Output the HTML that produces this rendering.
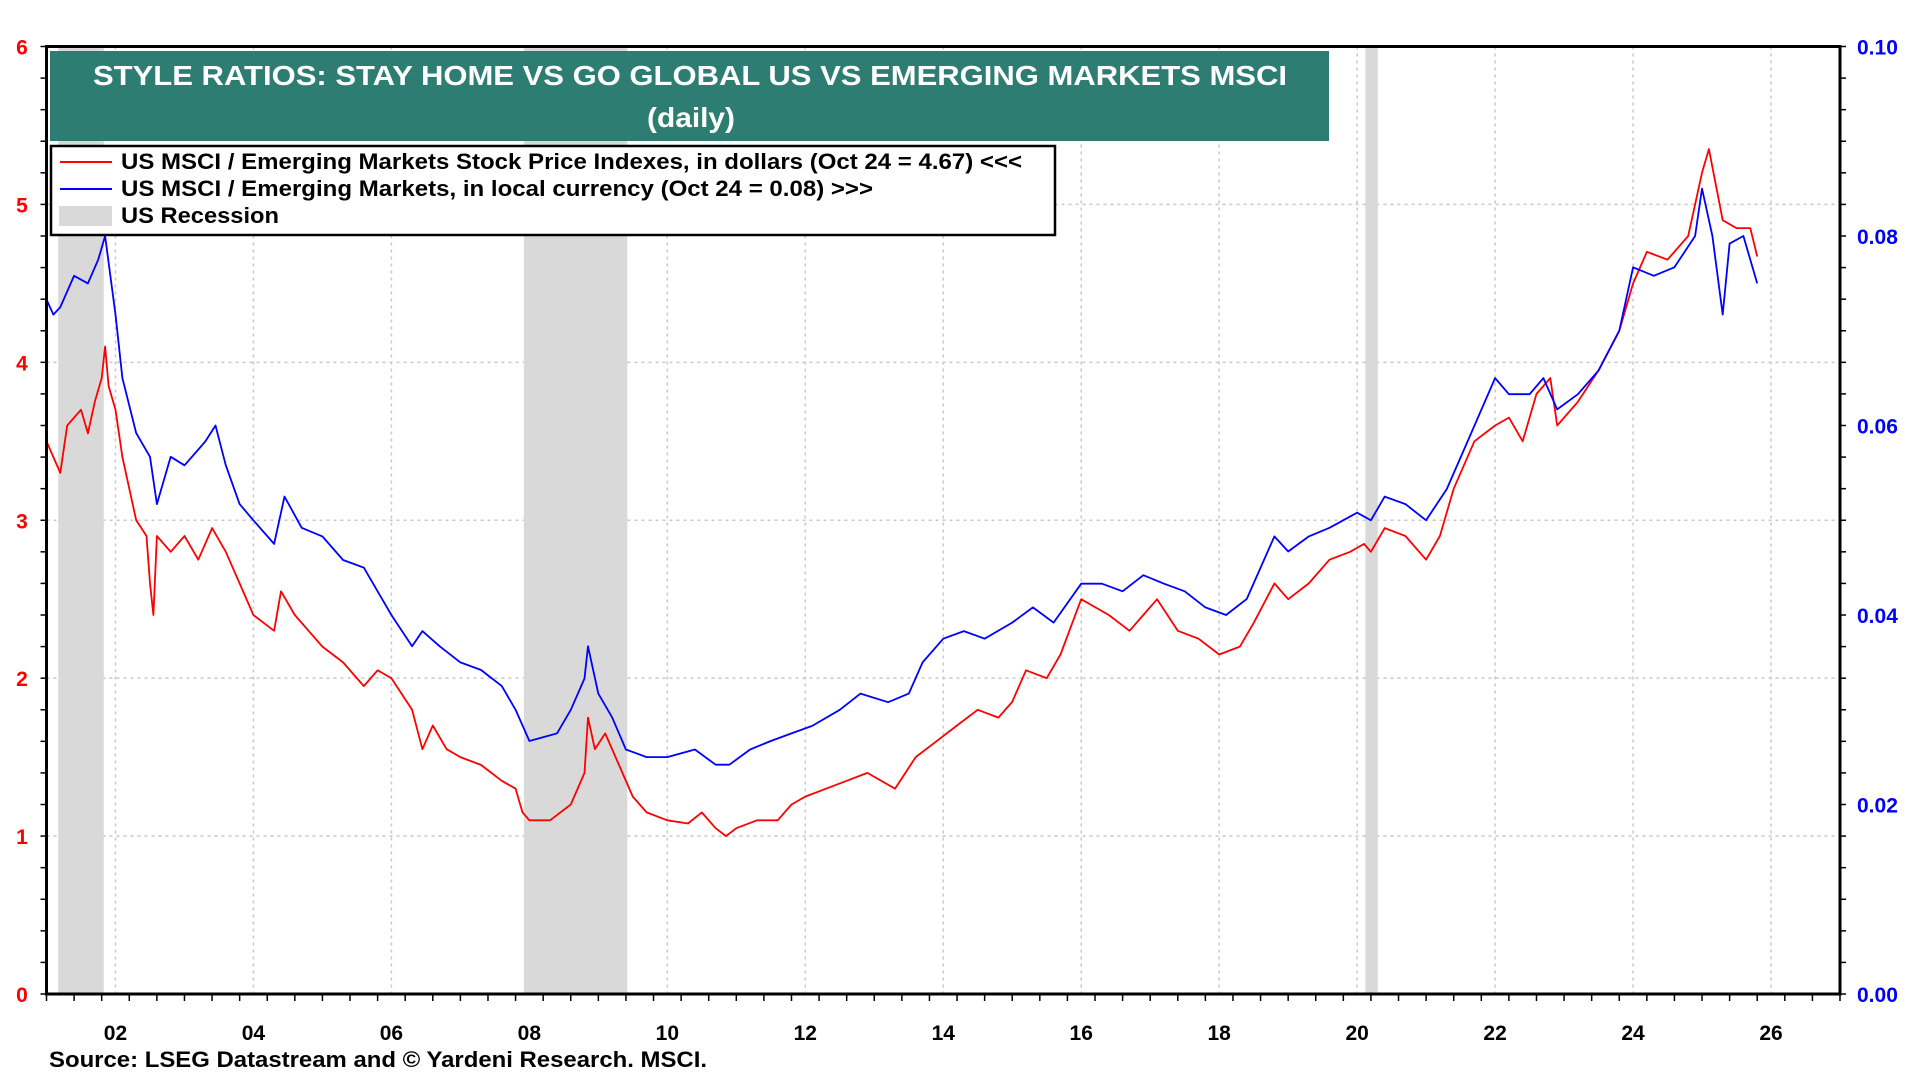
<!DOCTYPE html>
<html><head><meta charset="utf-8"><style>
html,body{margin:0;padding:0;background:#fff;}
svg{display:block;font-family:"Liberation Sans",Arial,sans-serif;font-weight:bold;}
</style></head><body>
<svg id="chart" width="1920" height="1080" viewBox="0 0 1920 1080">
<g id="grid"></g>
<g id="recess"></g>
<g id="lines"></g>
<rect x="46.5" y="46.5" width="1793.5" height="947.5" fill="none" stroke="#000" stroke-width="3"/>
<g id="ticks"></g>
<g>
<rect x="50" y="51" width="1279" height="90" fill="#2e7d72"/>
<text x="93" y="85" fill="#fff" font-size="28" textLength="1194" lengthAdjust="spacingAndGlyphs">STYLE RATIOS: STAY HOME VS GO GLOBAL US VS EMERGING MARKETS MSCI</text>
<text x="647" y="127" fill="#fff" font-size="28" textLength="88" lengthAdjust="spacingAndGlyphs">(daily)</text>
</g>
<g>
<rect x="51" y="146" width="1004" height="89" fill="#fff" stroke="#000" stroke-width="2.5"/>
<line x1="60" y1="162" x2="112" y2="162" stroke="#f00" stroke-width="2"/>
<text x="121" y="169" font-size="22" textLength="901" lengthAdjust="spacingAndGlyphs">US MSCI / Emerging Markets Stock Price Indexes, in dollars (Oct 24 = 4.67) &lt;&lt;&lt;</text>
<line x1="60" y1="189" x2="112" y2="189" stroke="#00f" stroke-width="2"/>
<text x="121" y="196" font-size="22" textLength="752" lengthAdjust="spacingAndGlyphs">US MSCI / Emerging Markets, in local currency (Oct 24 = 0.08) &gt;&gt;&gt;</text>
<rect x="59" y="206" width="53" height="20" fill="#d9d9d9"/>
<text x="121" y="223" font-size="22" textLength="158" lengthAdjust="spacingAndGlyphs">US Recession</text>
</g>
<text x="49" y="1067" font-size="22" textLength="658" lengthAdjust="spacingAndGlyphs">Source: LSEG Datastream and © Yardeni Research. MSCI.</text>
</svg>
<script>
const yearTicks=["02","04","06","08","10","12","14","16","18","20","22","24","26"];
const leftTicks=[0,1,2,3,4,5,6];
const rightTicks=["0.00","0.02","0.04","0.06","0.08","0.10"];
const recessions=[[2001.17,2001.83],[2007.92,2009.42],[2020.12,2020.3]];
const redYears=[2001.0,2001.1,2001.2,2001.3,2001.5,2001.6,2001.7,2001.8,2001.85,2001.9,2002.0,2002.1,2002.2,2002.3,2002.45,2002.5,2002.55,2002.6,2002.8,2003.0,2003.2,2003.4,2003.6,2003.8,2004.0,2004.3,2004.4,2004.6,2004.8,2005.0,2005.3,2005.6,2005.8,2006.0,2006.3,2006.45,2006.6,2006.8,2007.0,2007.3,2007.6,2007.8,2007.9,2008.0,2008.3,2008.6,2008.8,2008.85,2008.95,2009.1,2009.3,2009.5,2009.7,2010.0,2010.3,2010.5,2010.7,2010.85,2011.0,2011.3,2011.6,2011.8,2012.0,2012.3,2012.6,2012.9,2013.3,2013.6,2013.9,2014.2,2014.5,2014.8,2015.0,2015.2,2015.5,2015.7,2016.0,2016.2,2016.4,2016.7,2016.9,2017.1,2017.4,2017.7,2018.0,2018.3,2018.5,2018.8,2019.0,2019.3,2019.6,2019.9,2020.1,2020.2,2020.4,2020.7,2021.0,2021.2,2021.4,2021.7,2022.0,2022.2,2022.4,2022.6,2022.8,2022.9,2023.2,2023.5,2023.8,2024.0,2024.2,2024.5,2024.8,2025.0,2025.1,2025.3,2025.5,2025.7,2025.8];
const redValues=[3.5,3.4,3.3,3.6,3.7,3.55,3.75,3.9,4.1,3.85,3.7,3.4,3.2,3.0,2.9,2.6,2.4,2.9,2.8,2.9,2.75,2.95,2.8,2.6,2.4,2.3,2.55,2.4,2.3,2.2,2.1,1.95,2.05,2.0,1.8,1.55,1.7,1.55,1.5,1.45,1.35,1.3,1.15,1.1,1.1,1.2,1.4,1.75,1.55,1.65,1.45,1.25,1.15,1.1,1.08,1.15,1.05,1.0,1.05,1.1,1.1,1.2,1.25,1.3,1.35,1.4,1.3,1.5,1.6,1.7,1.8,1.75,1.85,2.05,2.0,2.15,2.5,2.45,2.4,2.3,2.4,2.5,2.3,2.25,2.15,2.2,2.35,2.6,2.5,2.6,2.75,2.8,2.85,2.8,2.95,2.9,2.75,2.9,3.2,3.5,3.6,3.65,3.5,3.8,3.9,3.6,3.75,3.95,4.2,4.5,4.7,4.65,4.8,5.2,5.35,4.9,4.85,4.85,4.67];
const blueYears=[2001.0,2001.1,2001.2,2001.4,2001.6,2001.75,2001.85,2002.0,2002.1,2002.3,2002.5,2002.6,2002.8,2003.0,2003.3,2003.45,2003.6,2003.8,2004.0,2004.3,2004.45,2004.7,2005.0,2005.3,2005.6,2005.8,2006.0,2006.3,2006.45,2006.7,2007.0,2007.3,2007.6,2007.8,2008.0,2008.4,2008.6,2008.8,2008.85,2009.0,2009.2,2009.4,2009.7,2010.0,2010.4,2010.7,2010.9,2011.2,2011.5,2011.8,2012.1,2012.5,2012.8,2013.2,2013.5,2013.7,2014.0,2014.3,2014.6,2015.0,2015.3,2015.6,2016.0,2016.3,2016.6,2016.9,2017.2,2017.5,2017.8,2018.1,2018.4,2018.6,2018.8,2019.0,2019.3,2019.6,2020.0,2020.2,2020.4,2020.7,2021.0,2021.3,2021.6,2022.0,2022.2,2022.5,2022.7,2022.9,2023.2,2023.5,2023.8,2024.0,2024.3,2024.6,2024.9,2025.0,2025.15,2025.3,2025.4,2025.6,2025.8];
const blueValues=[.0733,.0717,.0725,.0758,.075,.0775,.08,.0717,.065,.0592,.0567,.0517,.0567,.0558,.0583,.06,.0558,.0517,.05,.0475,.0525,.0492,.0483,.0458,.045,.0425,.04,.0367,.0383,.0367,.035,.0342,.0325,.03,.0267,.0275,.03,.0333,.0367,.0317,.0292,.0258,.025,.025,.0258,.0242,.0242,.0258,.0267,.0275,.0283,.03,.0317,.0308,.0317,.035,.0375,.0383,.0375,.0392,.0408,.0392,.0433,.0433,.0425,.0442,.0433,.0425,.0408,.04,.0417,.045,.0483,.0467,.0483,.0492,.0508,.05,.0525,.0517,.05,.0533,.0583,.065,.0633,.0633,.065,.0617,.0633,.0658,.07,.0767,.0758,.0767,.08,.085,.08,.0717,.0792,.08,.075];

const NS="http://www.w3.org/2000/svg";
const X0=46.5,X1=1840,Y0=994,Y1=46.5,T0=2001,T1=2027;
const xs=t=>X0+(t-T0)/(T1-T0)*(X1-X0);
const yL=v=>Y0-v/6*(Y0-Y1);
const yR=v=>Y0-v/0.1*(Y0-Y1);
function mk(tag,attrs,parent){const e=document.createElementNS(NS,tag);for(const k in attrs)e.setAttribute(k,attrs[k]);parent.appendChild(e);return e;}
const grid=document.getElementById('grid'),rec=document.getElementById('recess'),lines=document.getElementById('lines'),ticks=document.getElementById('ticks');
yearTicks.forEach(l=>{const t=2000+parseInt(l,10);const x=xs(t);
 const g=mk('line',{x1:x,x2:x,y1:Y1,y2:Y0,stroke:'#c8c8c8','stroke-dasharray':'3,4','stroke-width':1.5},grid);
 
 
 const tx=mk('text',{x:x,y:1040,'text-anchor':'middle','font-size':21,fill:'#000'},ticks);tx.textContent=l;
 
 });
leftTicks.forEach(v=>{const y=yL(v);
 if(v>0&&v<6){const g=mk('line',{x1:X0,x2:X1,y1:y,y2:y,stroke:'#c8c8c8','stroke-dasharray':'3,4','stroke-width':1.5},grid);
 
 }
 const tx=mk('text',{x:22,y:y+8,'text-anchor':'middle','font-size':21,fill:'#f00'},ticks);tx.textContent=v;
 
 });
rightTicks.forEach(l=>{const y=yR(parseFloat(l));
 const tx=mk('text',{x:1857,y:y+8,'font-size':21,fill:'#00f'},ticks);tx.textContent=l;
 
 });
for(let v=0;v<=6.001;v+=0.2){const y=yL(v);mk('line',{x1:X0-6,x2:X0,y1:y,y2:y,stroke:'#000','stroke-width':1.5},ticks);mk('line',{x1:X1,x2:X1+6,y1:y,y2:y,stroke:'#000','stroke-width':1.5},ticks);}
for(let t=T0;t<=T1+0.001;t+=0.4){const x=xs(t);mk('line',{x1:x,x2:x,y1:Y0,y2:Y0+7,stroke:'#000','stroke-width':1.5},ticks);}
recessions.forEach(r=>{const b=mk('rect',{x:xs(r[0]),y:Y1,width:xs(r[1])-xs(r[0]),height:Y0-Y1,fill:'#d9d9d9'},rec);
 
 });
function path(ys,vs,f,color,name){let d='';ys.forEach((t,i)=>{d+=(i?'L':'M')+xs(t).toFixed(1)+','+f(vs[i]).toFixed(1);});
 const p=mk('path',{d:d,fill:'none',stroke:color,'stroke-width':1.8,'stroke-linejoin':'round'},lines);
 
 }
path(redYears,redValues,yL,'#f00','dollar-ratio-line');
path(blueYears,blueValues,yR,'#00f','local-currency-ratio-line');
</script>
</body></html>
